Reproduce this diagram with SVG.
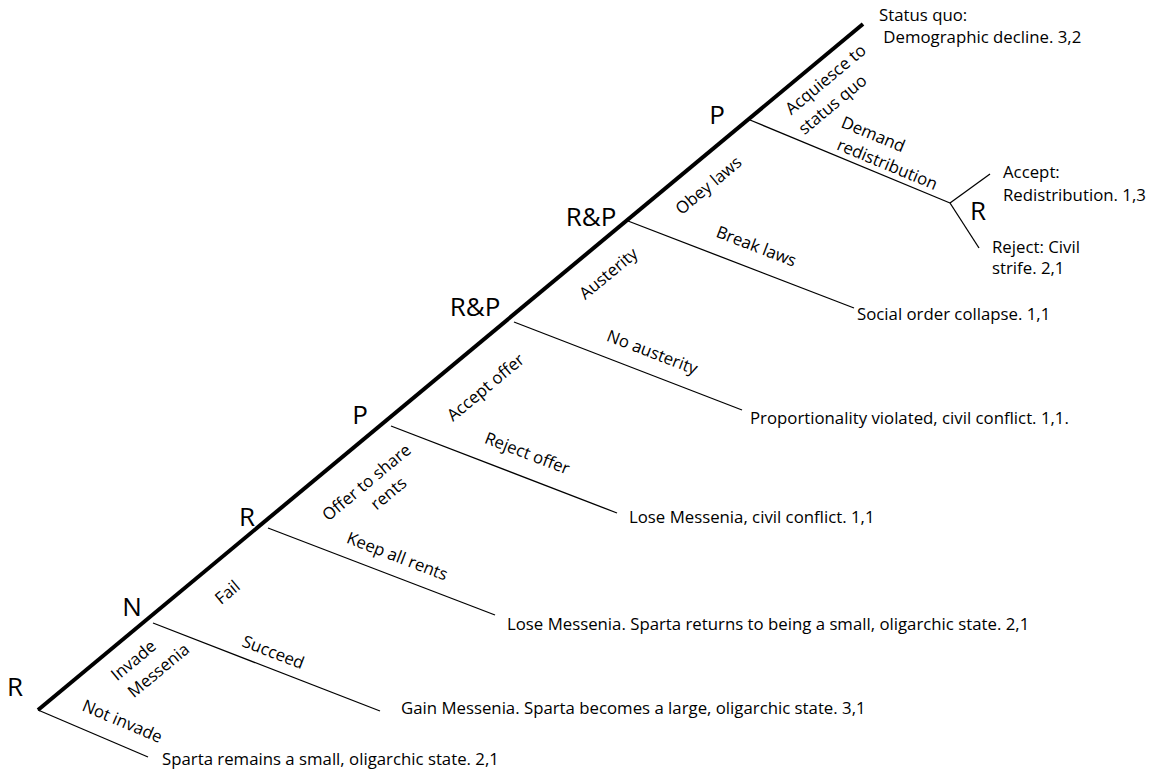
<svg xmlns="http://www.w3.org/2000/svg" width="1156" height="774" viewBox="0 0 1156 774">
<style>
  text { font-family: "Open Sans", "Liberation Sans", sans-serif; fill: #000; }
  .node { font-size: 26px; text-anchor: middle; }
  .out { font-size: 16.8px; }
  .lbl { font-size: 16.8px; text-anchor: middle; }
  .trunk { stroke: #000; stroke-width: 4; stroke-linecap: butt; fill: none; }
  .br { stroke: #000; stroke-width: 1.3; fill: none; }
</style>
<rect width="1156" height="774" fill="#fff"/>
<g id="connectors">
  <line class="trunk" x1="38" y1="710" x2="863" y2="24"/>
  <line class="br" x1="38" y1="710" x2="148" y2="757"/>
  <line class="br" x1="153" y1="623" x2="380" y2="711"/>
  <line class="br" x1="268" y1="528" x2="495" y2="615"/>
  <line class="br" x1="391" y1="426" x2="617" y2="513"/>
  <line class="br" x1="514" y1="322" x2="742" y2="410"/>
  <line class="br" x1="628" y1="221" x2="854" y2="308"/>
  <line class="br" x1="750" y1="120" x2="950" y2="203"/>
  <line class="br" x1="950" y1="203" x2="990" y2="174"/>
  <line class="br" x1="950" y1="203" x2="979" y2="248"/>
  <g id="edge-labels">
    <text class="lbl" transform="translate(134,661) rotate(-39.75)" y="5">Invade</text>
    <text class="lbl" transform="translate(159,671) rotate(-39.75)" y="5">Messenia</text>
    <text class="lbl" transform="translate(228,593) rotate(-39.75)" y="5">Fail</text>
    <text class="lbl" transform="translate(367,483) rotate(-39.75)" y="5">Offer to share</text>
    <text class="lbl" transform="translate(389,494) rotate(-39.75)" y="5">rents</text>
    <text class="lbl" transform="translate(486,388) rotate(-39.75)" y="5">Accept offer</text>
    <text class="lbl" transform="translate(609,274) rotate(-39.75)" y="5">Austerity</text>
    <text class="lbl" transform="translate(709,186) rotate(-39.75)" y="5">Obey laws</text>
    <text class="lbl" transform="translate(826,80) rotate(-39.75)" y="5">Acquiesce to</text>
    <text class="lbl" transform="translate(833,105) rotate(-39.75)" y="5">status quo</text>
    <text class="lbl" transform="translate(122,722) rotate(23)" y="5">Not invade</text>
    <text class="lbl" transform="translate(273,653) rotate(21)" y="5">Succeed</text>
    <text class="lbl" transform="translate(397,557) rotate(21)" y="5">Keep all rents</text>
    <text class="lbl" transform="translate(527,454) rotate(21)" y="5">Reject offer</text>
    <text class="lbl" transform="translate(652,353) rotate(21)" y="5">No austerity</text>
    <text class="lbl" transform="translate(756,247) rotate(21)" y="5">Break laws</text>
    <text class="lbl" transform="translate(873,135) rotate(22.5)" y="5">Demand</text>
    <text class="lbl" transform="translate(887,165) rotate(22.5)" y="5">redistribution</text>
  </g>
</g>
<g id="node-root"><text class="node" x="15" y="696">R</text></g>
<g id="node-nature"><text class="node" x="132" y="616">N</text></g>
<g id="node-rich1"><text class="node" x="247" y="526">R</text></g>
<g id="node-poor1"><text class="node" x="360" y="424">P</text></g>
<g id="node-rp1"><text class="node" x="475" y="316">R&amp;P</text></g>
<g id="node-rp2"><text class="node" x="591" y="226">R&amp;P</text></g>
<g id="node-poor2"><text class="node" x="717" y="124">P</text></g>
<g id="node-rich2"><text class="node" x="978" y="220">R</text></g>
<g id="out-not-invade"><text class="out" x="162" y="765">Sparta remains a small, oligarchic state. 2,1</text></g>
<g id="out-succeed"><text class="out" x="401" y="714">Gain Messenia. Sparta becomes a large, oligarchic state. 3,1</text></g>
<g id="out-keep"><text class="out" x="507" y="630">Lose Messenia. Sparta returns to being a small, oligarchic state. 2,1</text></g>
<g id="out-reject-offer"><text class="out" x="629" y="523">Lose Messenia, civil conflict. 1,1</text></g>
<g id="out-no-austerity"><text class="out" x="750" y="424">Proportionality violated, civil conflict. 1,1.</text></g>
<g id="out-break"><text class="out" x="857" y="320">Social order collapse. 1,1</text></g>
<g id="out-reject-strife"><text class="out" x="992" y="253">Reject: Civil</text><text class="out" x="992" y="274">strife. 2,1</text></g>
<g id="out-accept"><text class="out" x="1003" y="178">Accept:</text><text class="out" x="1003" y="201">Redistribution. 1,3</text></g>
<g id="out-status-quo"><text class="out" x="879" y="21">Status quo:</text><text class="out" x="879" y="43" xml:space="preserve"> Demographic decline. 3,2</text></g>
</svg>
